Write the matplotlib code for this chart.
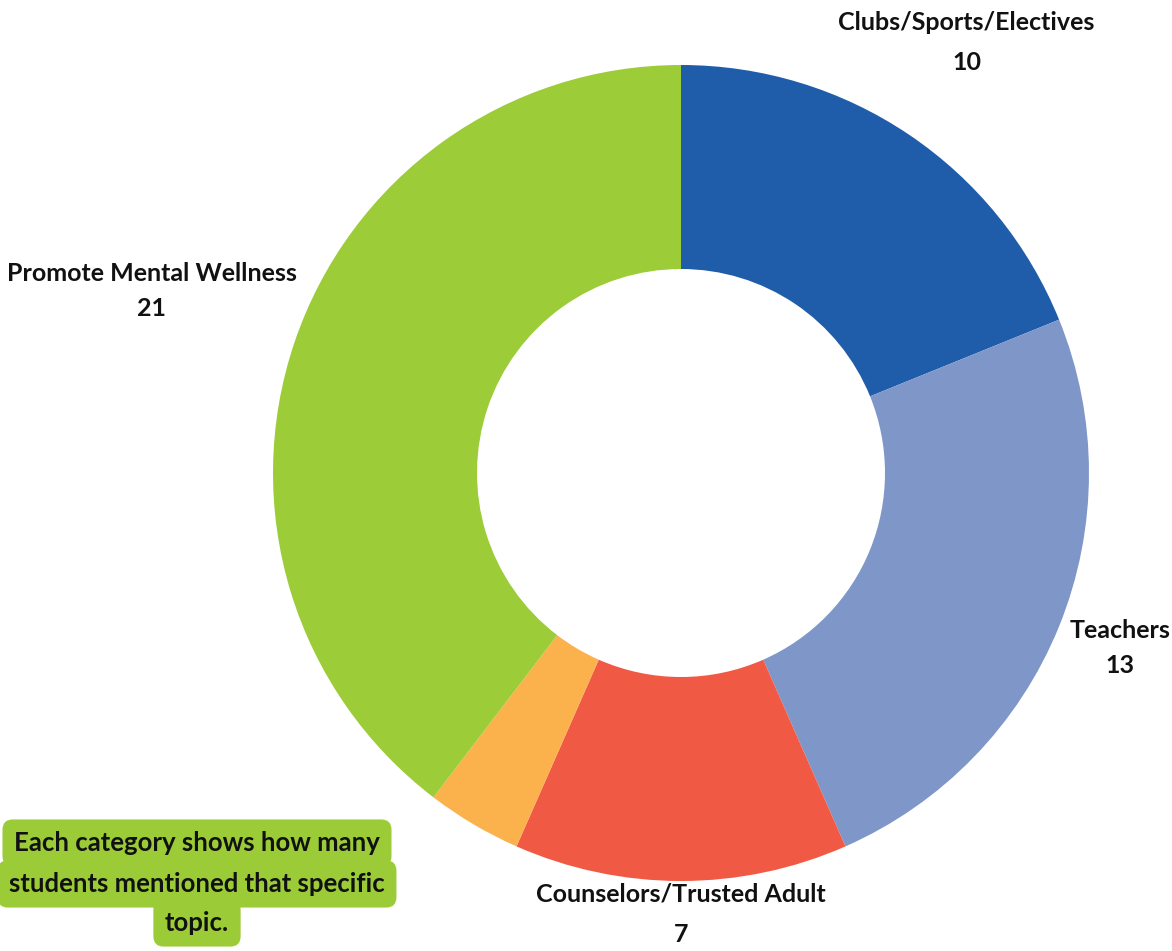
import matplotlib
matplotlib.use("Agg")
import matplotlib.pyplot as plt

# Counts per category (clockwise from 12 o'clock)
categories = ["Clubs/Sports/Electives", "Teachers", "Counselors/Trusted Adult", "Other", "Promote Mental Wellness"]
counts = [10, 13, 7, 2, 21]
colors = ["#1F5DAA", "#7F96C8", "#F05A45", "#FBB24C", "#9CCC37"]
show_label = [True, True, True, False, True]

# label anchor (name y, value y) around the ring, in data coords
label_x = [0.70, 1.076, 0.0, None, -1.297]
name_y = [1.105, -0.385, -1.032, None, 0.49]
value_y = [1.005, -0.471, -1.132, None, 0.404]

note_lines = ["Each category shows how many", "students mentioned that specific", "topic."]

plt.rcParams["font.family"] = ["Lato", "DejaVu Sans"]

fig = plt.figure(figsize=(11.72, 9.51), dpi=100)
W, H = 1172, 951
cx, cy, r = 681, 473, 408
ax = fig.add_axes([(cx - r) / W, (H - cy - r) / H, 2 * r / W, 2 * r / H])

ax.pie(counts, colors=colors, startangle=90, counterclock=False, radius=1.0,
       wedgeprops=dict(width=0.5, edgecolor="none"))
ax.set_xlim(-1, 1)
ax.set_ylim(-1, 1)
ax.set_aspect("equal")
ax.axis("off")

for name, val, x, ny, vy, show in zip(categories, counts, label_x, name_y, value_y, show_label):
    if not show:
        continue
    ax.text(x, ny, name, ha="center", va="center", fontsize=18, fontweight="bold",
            color="#111111", clip_on=False)
    ax.text(x, vy, str(val), ha="center", va="center", fontsize=18,
            fontweight="bold", color="#111111", clip_on=False)

# highlighted note in the lower left corner (line boxes overlap into one shape)
note_y = [843, 884, 923]
for line, y in zip(note_lines, note_y):
    fig.text(197 / W, 1 - y / H, line, ha="center", va="center", fontsize=18.5,
             fontweight="bold", color="#111111",
             bbox=dict(boxstyle="round,pad=0.45,rounding_size=0.4", fc="#9CCB38", ec="none"))

fig.savefig("out.png", dpi=100, facecolor="white")
